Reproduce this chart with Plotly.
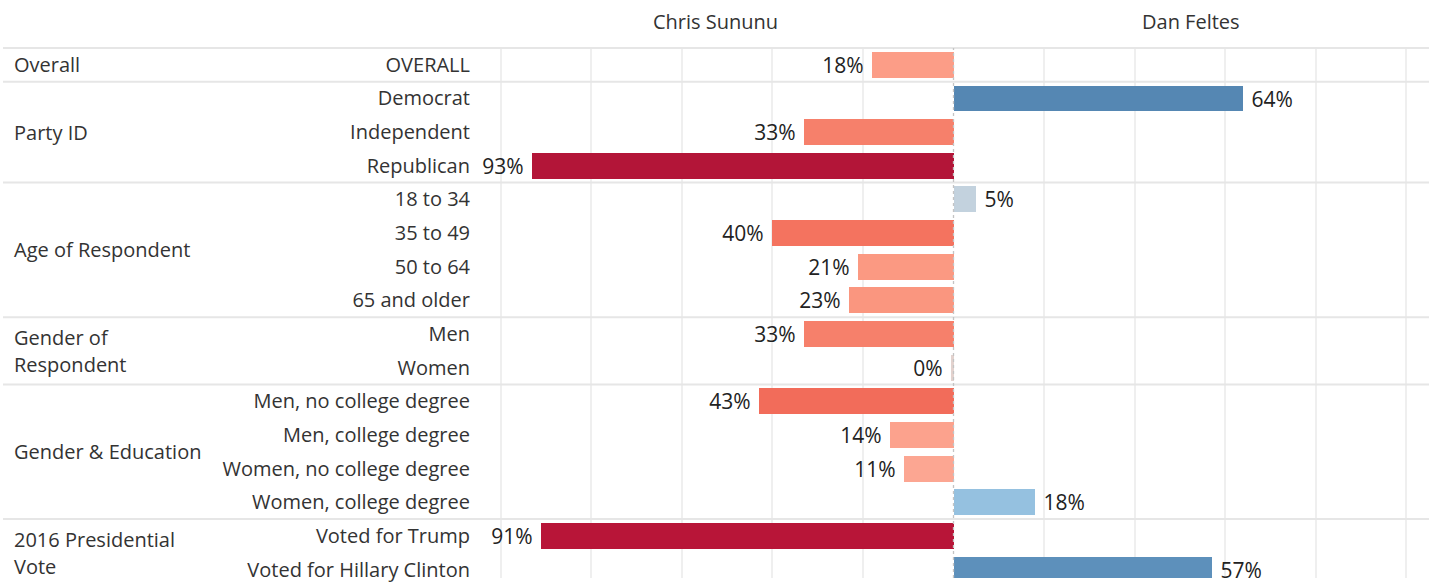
import plotly.graph_objects as go

# ---------------- data ----------------
candidates = ["Chris Sununu", "Dan Feltes"]

categories = [
    "OVERALL",
    "Democrat", "Independent", "Republican",
    "18 to 34", "35 to 49", "50 to 64", "65 and older",
    "Men", "Women",
    "Men, no college degree", "Men, college degree",
    "Women, no college degree", "Women, college degree",
    "Voted for Trump", "Voted for Hillary Clinton",
]

category_groups = [
    "Overall",
    "Party ID", "Party ID", "Party ID",
    "Age of Respondent", "Age of Respondent", "Age of Respondent", "Age of Respondent",
    "Gender of<br>Respondent", "Gender of<br>Respondent",
    "Gender & Education", "Gender & Education", "Gender & Education", "Gender & Education",
    "2016 Presidential<br>Vote", "2016 Presidential<br>Vote",
]

# signed margin: negative = Chris Sununu lead, positive = Dan Feltes lead
margins = [-18, 64, -33, -93, 5, -40, -21, -23, -33, -0.45, -43, -14, -11, 18, -91, 57]

# ---------------- layout constants ----------------
W, H = 1435, 582
ML, MR, MT, MB = 478, 6, 48, 0
ROW_PX = 33.9
plot_w = W - ML - MR
plot_h = H - MT - MB
y_top = -0.5
y_bottom = y_top + plot_h / ROW_PX
XR = [-105, 105]

FONT = "Open Sans"
TXT = "#333333"
NB = "\u00a0"

# colour scale (Tableau-like red-blue diverging)
anchors = [
    (-100, "#a5112f"), (-93, "#b31538"), (-91, "#b81538"), (-43, "#f26c5a"),
    (-40, "#f4735f"), (-33, "#f6806b"), (-23, "#fa967f"), (-18, "#fc9d87"),
    (-11, "#fca692"), (0, "#e2d4d1"), (5, "#c3d2de"), (18, "#95c1e0"),
    (57, "#5d90bb"), (64, "#5587b3"), (100, "#2c5f91"),
]
colorscale = [[(v + 100) / 200, c] for v, c in anchors]

labels = [(f"{abs(v):.0f}%" + NB) if v < 0 else (NB + f"{abs(v):.0f}%") for v in margins]

fig = go.Figure()
fig.add_trace(go.Bar(
    x=margins,
    y=categories,
    orientation="h",
    width=0.77,
    marker=dict(color=margins, colorscale=colorscale, cmin=-100, cmax=100, line=dict(width=0)),
    text=labels,
    textposition="outside",
    constraintext="none",
    cliponaxis=False,
    textfont=dict(family=FONT, size=21, color="#222222"),
    hoverinfo="skip",
    showlegend=False,
))

def ypaper(v):
    return (y_bottom - v) / (y_bottom - y_top)

shapes = []
# group separator lines (full width, incl. label area)
bounds = [y_top]
for i in range(1, len(categories)):
    if category_groups[i] != category_groups[i - 1]:
        bounds.append(i - 0.5)
for b in bounds:
    yp = ypaper(b)
    shapes.append(dict(type="line", xref="paper", yref="paper",
                       x0=-(ML - 3) / plot_w, x1=1, y0=yp, y1=yp,
                       line=dict(color="#e6e6e6", width=2), layer="above"))
# dashed zero line
shapes.append(dict(type="line", xref="x", yref="paper", x0=0, x1=0, y0=0, y1=1,
                   line=dict(color="#c4c4c4", width=1.3, dash="3px,3px"), layer="above"))

annotations = []
# group labels
seen = []
for g in category_groups:
    if g not in seen:
        seen.append(g)
for g in seen:
    idx = [i for i, c in enumerate(category_groups) if c == g]
    mid = sum(idx) / len(idx)
    lines = g.split("<br>")
    n = len(lines)
    for k, ln in enumerate(lines):
        annotations.append(dict(
            text=ln, xref="paper", yref="y", x=0, y=mid, xanchor="left", yanchor="middle",
            xshift=-(ML - 12), yshift=-(k - (n - 1) / 2) * 27, showarrow=False,
            font=dict(family=FONT, size=20, color=TXT)))
# candidate headers
for k, cand in enumerate(candidates):
    annotations.append(dict(
        text=cand, xref="paper", yref="paper", x=0.25 + 0.5 * k, y=1, yshift=27,
        xanchor="center", yanchor="middle", showarrow=False,
        font=dict(family=FONT, size=20, color=TXT)))

fig.update_layout(
    width=W, height=H,
    margin=dict(l=ML, r=MR, t=MT, b=MB, pad=0),
    paper_bgcolor="white", plot_bgcolor="white",
    bargap=0,
    xaxis=dict(range=XR, tickvals=[-100, -80, -60, -40, -20, 20, 40, 60, 80, 100],
               showticklabels=False, showgrid=True, gridcolor="#efefef", gridwidth=1.5,
               zeroline=False, showline=False, fixedrange=True),
    yaxis=dict(type="category", categoryorder="array", categoryarray=categories,
               range=[y_bottom, y_top], showgrid=False, zeroline=False, showline=False,
               ticks="", ticklabelstandoff=7,
               tickfont=dict(family=FONT, size=20, color=TXT), fixedrange=True),
    shapes=shapes,
    annotations=annotations,
    font=dict(family=FONT, color=TXT),
)

fig.write_html("out.html", config={"displayModeBar": False},
               post_script="document.body.style.margin='0';document.body.style.overflow='hidden';")
